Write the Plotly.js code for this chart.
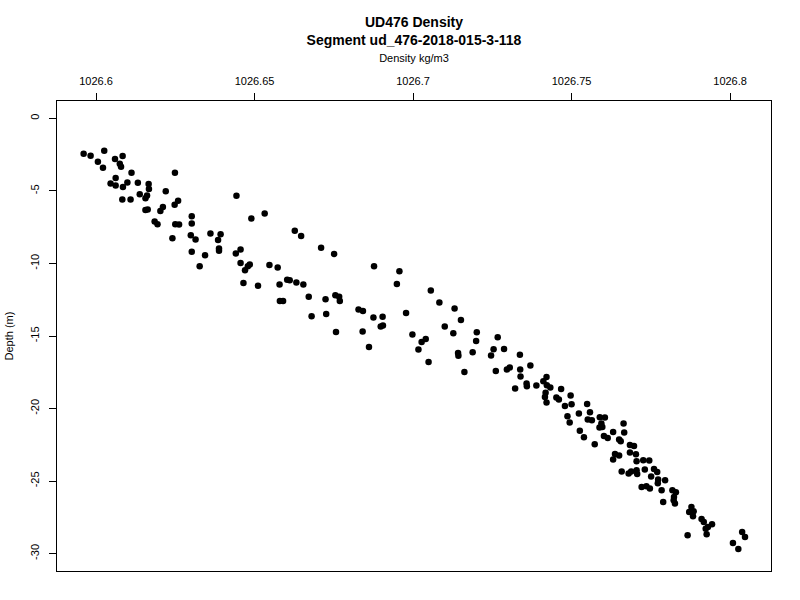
<!DOCTYPE html>
<html>
<head>
<meta charset="utf-8">
<script src="https://cdn.plot.ly/plotly-3.0.1.min.js"></script>
<style>html,body{margin:0;padding:0;background:#fff;}#chart{width:800px;height:600px;}</style>
</head>
<body>
<div id="chart"></div>
<script>
// Density (kg/m3) and depth (m)
const density = [
1026.5961,1026.5983,1026.6026,1026.6006,1026.6022,1026.6060,1026.6084,1026.6075,1026.6079,1026.6112,
1026.6062,1026.6046,1026.6062,1026.6085,1026.6099,1026.6132,1026.6166,1026.6167,1026.6249,1026.6220,
1026.6138,1026.6156,1026.6161,1026.6083,1026.6109,1026.6248,1026.6259,1026.6156,1026.6163,1026.6203,
1026.6211,1026.6185,1026.6194,1026.6250,1026.6262,1026.6302,1026.6302,1026.6241,1026.6299,1026.6314,
1026.6361,1026.6393,1026.6385,1026.6443,1026.6490,1026.6302,1026.6344,1026.6327,1026.6388,1026.6388,
1026.6441,1026.6456,1026.6456,1026.6470,1026.6479,1026.6485,1026.6465,1026.6511,1026.6532,1026.6627,
1026.6647,1026.6710,1026.6751,1026.6547,1026.6573,1026.6579,1026.6603,1026.6611,1026.6632,1026.6654,
1026.6580,1026.6590,1026.6671,1026.6724,1026.6755,1026.6767,1026.6769,1026.6680,1026.6726,1026.6757,
1026.6877,1026.6957,1026.6949,1026.6828,1026.6842,1026.6875,1026.6904,1026.6898,1026.6905,1026.6978,
1026.6841,1026.6861,1026.6998,1026.7027,1026.7040,1026.7017,1026.7056,1026.7083,1026.7100,1026.7131,
1026.7151,1026.7127,1026.7201,1026.7199,1026.7267,1026.7049,1026.7142,1026.7143,1026.7188,1026.7162,
1026.7254,1026.7246,1026.7287,1026.7337,1026.7370,1026.7261,1026.7296,1026.7305,1026.7338,1026.7339,
1026.7322,1026.7358,1026.7359,1026.7389,1026.7421,1026.7411,1026.7422,1026.7433,1026.7418,1026.7416,
1026.7421,1026.7452,1026.7460,1026.7467,1026.7497,1026.7479,1026.7500,1026.7549,1026.7487,1026.7494,
1026.7523,1026.7558,1026.7551,1026.7564,1026.7589,1026.7605,1026.7594,1026.7597,1026.7588,1026.7664,
1026.7666,1026.7631,1026.7526,1026.7539,1026.7602,1026.7614,1026.7650,1026.7573,1026.7655,1026.7684,
1026.7697,1026.7637,1026.7631,1026.7650,1026.7684,1026.7703,1026.7705,1026.7726,1026.7745,1026.7658,
1026.7680,1026.7688,1026.7705,1026.7707,1026.7731,1026.7760,1026.7770,1026.7751,1026.7773,1026.7795,
1026.7772,1026.7784,1026.7721,1026.7736,1026.7747,1026.7789,1026.7818,1026.7829,1026.7823,1026.7822,
1026.7826,1026.7878,1026.7885,1026.7871,1026.7883,1026.7910,1026.7917,1026.7930,1026.7943,1026.7923,
1026.7926,1026.7866,1026.8038,1026.8047,1026.8009,1026.8026
];
const depth = [
-2.44,-2.58,-2.23,-2.99,-3.41,-2.79,-2.60,-3.13,-3.34,-3.75,
-4.10,-4.48,-4.62,-4.72,-4.41,-4.44,-4.53,-4.86,-3.75,-5.03,
-5.22,-5.50,-5.31,-5.59,-5.59,-5.96,-5.68,-6.32,-6.28,-6.39,
-6.10,-7.10,-7.29,-7.29,-7.31,-6.74,-7.24,-8.26,-8.05,-8.34,
-7.93,-7.98,-8.39,-5.34,-6.90,-9.20,-9.43,-10.19,-8.97,-9.13,
-9.31,-9.03,-9.96,-10.46,-10.19,-10.07,-11.34,-11.54,-6.55,-7.75,
-8.10,-8.92,-9.34,-10.10,-10.28,-11.45,-11.13,-11.15,-11.31,-11.45,
-12.58,-12.58,-12.30,-12.46,-12.19,-12.30,-12.58,-13.63,-13.48,-14.72,
-10.19,-10.53,-11.41,-13.17,-13.27,-13.72,-13.68,-14.34,-14.28,-13.41,
-14.69,-15.75,-14.90,-15.41,-15.20,-15.93,-11.86,-12.69,-14.34,-13.10,
-13.89,-14.81,-14.74,-15.34,-15.08,-16.79,-16.17,-16.37,-16.12,-17.48,
-15.91,-16.34,-15.89,-16.30,-17.03,-17.41,-17.31,-17.17,-17.31,-17.79,
-18.62,-18.28,-18.46,-18.41,-17.82,-18.12,-18.39,-18.55,-18.92,-19.20,
-19.59,-19.24,-19.38,-18.65,-19.10,-19.82,-19.70,-19.68,-20.53,-20.97,
-20.34,-20.26,-20.76,-20.81,-20.60,-20.62,-21.03,-21.27,-21.31,-21.03,
-21.66,-21.61,-21.54,-21.98,-21.89,-22.03,-22.14,-22.46,-22.26,-22.51,
-22.58,-23.13,-23.52,-23.24,-23.03,-23.15,-23.63,-23.57,-23.59,-24.34,
-24.48,-24.34,-24.26,-24.51,-24.21,-24.17,-24.37,-24.69,-24.90,-24.94,
-25.15,-25.63,-25.41,-25.36,-25.52,-26.44,-25.63,-25.77,-26.10,-26.32,
-26.55,-26.79,-27.08,-27.13,-27.43,-27.61,-27.82,-28.17,-27.98,-28.28,
-28.67,-28.74,-28.51,-28.86,-29.27,-29.68
];
const xTickVals = [1026.6, 1026.65, 1026.7, 1026.75, 1026.8];
const xTickText = ["1026.6", "1026.65", "1026.7", "1026.75", "1026.8"];
const yTickVals = [0, -5, -10, -15, -20, -25, -30];
const yTickText = ["0", "-5", "-10", "-15", "-20", "-25", "-30"];

const FONT = "Liberation Sans, Arial, sans-serif";

const trace = {
  x: density, y: depth, type: "scatter", mode: "markers",
  marker: {color: "#000000", size: 6.5, line: {width: 0}},
  hoverinfo: "x+y"
};

const layout = {
  width: 800, height: 600,
  paper_bgcolor: "#ffffff", plot_bgcolor: "#ffffff",
  margin: {l: 57, r: 29, t: 101, b: 29, pad: 0},
  showlegend: false,
  font: {family: FONT, size: 11, color: "#000000"},
  title: {
    text: "UD476 Density<br>Segment ud_476-2018-015-3-118",
    font: {family: FONT, size: 14, color: "#000000", weight: "bold"},
    x: 0.5, xref: "paper", xanchor: "center",
    y: 1 - 27/600, yref: "container", yanchor: "top"
  },
  xaxis: {
    side: "top", range: [1026.5877, 1026.8129], autorange: false,
    tickmode: "array", tickvals: xTickVals, ticktext: xTickText,
    ticks: "outside", ticklen: 7, tickwidth: 1, tickcolor: "#000",
    showline: true, linecolor: "#000", linewidth: 1, mirror: true,
    showgrid: false, zeroline: false,
    tickfont: {family: FONT, size: 11, color: "#000"},
    ticklabelstandoff: 4,
    title: {text: "Density kg/m3", font: {family: FONT, size: 11, color: "#000"}, standoff: 9}
  },
  yaxis: {
    range: [-31.2, 1.2], autorange: false,
    tickmode: "array", tickvals: yTickVals, ticktext: yTickText,
    ticks: "outside", ticklen: 7, tickwidth: 1, tickcolor: "#000",
    tickangle: -90,
    showline: true, linecolor: "#000", linewidth: 1, mirror: true,
    showgrid: false, zeroline: false,
    tickfont: {family: FONT, size: 11, color: "#000"},
    ticklabelstandoff: 6,
    title: {text: "Depth (m)", font: {family: FONT, size: 11, color: "#000"}, standoff: 12}
  }
};

Plotly.newPlot("chart", [trace], layout, {displayModeBar: false, staticPlot: true});
</script>
</body>
</html>
